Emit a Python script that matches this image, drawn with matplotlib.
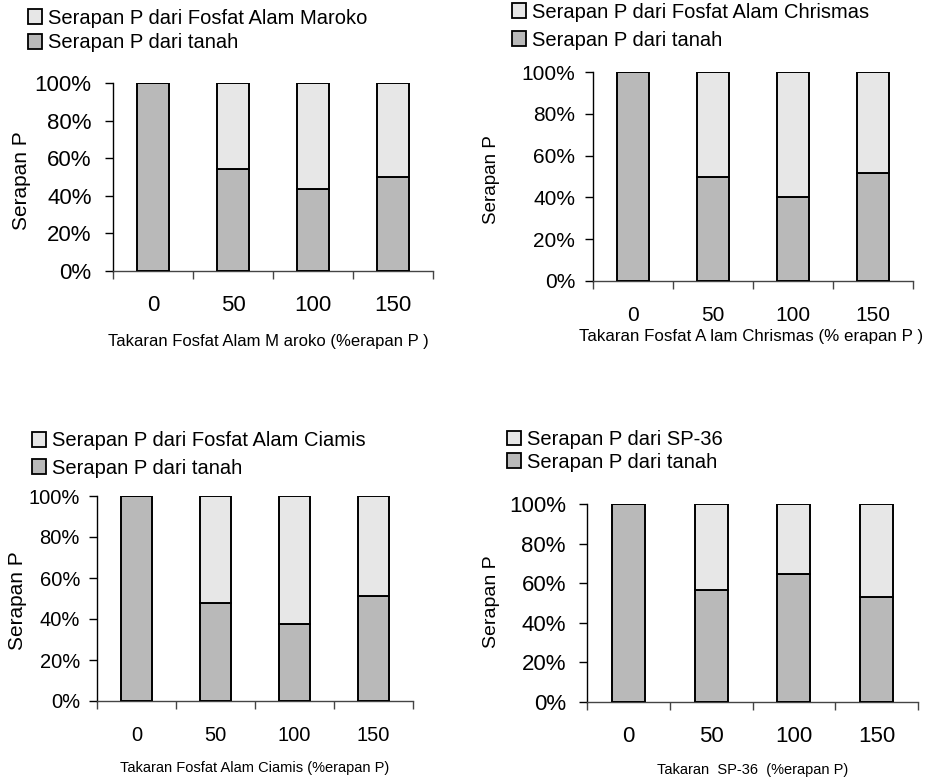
import matplotlib
matplotlib.use("Agg")
import matplotlib.pyplot as plt
from matplotlib.patches import Patch

plt.rcParams['font.family'] = ['Liberation Sans', 'DejaVu Sans']

categories = ["0", "50", "100", "150"]
ytick_labels = ["0%", "20%", "40%", "60%", "80%", "100%"]

soil_maroko = [100, 54.3, 43.5, 50.2]
soil_chrismas = [100, 49.7, 40.0, 51.6]
soil_ciamis = [100, 47.7, 37.7, 51.3]
soil_sp36 = [100, 56.8, 64.5, 53.1]

fert_maroko = [100 - v for v in soil_maroko]
fert_chrismas = [100 - v for v in soil_chrismas]
fert_ciamis = [100 - v for v in soil_ciamis]
fert_sp36 = [100 - v for v in soil_sp36]

legend_fert = ["Serapan P dari Fosfat Alam Maroko",
               "Serapan P dari Fosfat Alam Chrismas",
               "Serapan P dari Fosfat Alam Ciamis",
               "Serapan P dari SP-36"]
legend_soil = "Serapan P dari tanah"
xlabels = ["Takaran Fosfat Alam M aroko (%erapan P )",
           "Takaran Fosfat A lam Chrismas (% erapan P )",
           "Takaran Fosfat Alam Ciamis (%erapan P)",
           "Takaran  SP-36  (%erapan P)"]

W, H = 928, 779
fig = plt.figure(figsize=(W / 100, H / 100), dpi=100)

DARK = '#b9b9b9'
LIGHT = '#e7e7e7'

panels = [
    dict(soil=soil_maroko, fert=fert_maroko, leg=legend_fert[0], xl=xlabels[0],
         ax=(113, 433, 83, 271), legx=28, legy=(18, 43), yl=(22, 181), xlp=(268, 342),
         tick_fs=16, ypad=9.5, ylab_fs=15, leg_fs=14.5, xl_fs=12),
    dict(soil=soil_chrismas, fert=fert_chrismas, leg=legend_fert[1], xl=xlabels[1],
         ax=(593, 913, 72, 281), legx=512, legy=(12, 40), yl=(492, 180), xlp=(751, 337),
         tick_fs=15, ypad=7, ylab_fs=13.5, leg_fs=14.5, xl_fs=12.2),
    dict(soil=soil_ciamis, fert=fert_ciamis, leg=legend_fert[2], xl=xlabels[2],
         ax=(97, 413, 496, 701), legx=32, legy=(441, 468), yl=(18, 601), xlp=(255, 768),
         tick_fs=14.5, ypad=6.5, ylab_fs=15, leg_fs=14.5, xl_fs=10.5),
    dict(soil=soil_sp36, fert=fert_sp36, leg=legend_fert[3], xl=xlabels[3],
         ax=(587, 918, 504, 702), legx=507, legy=(440, 462), yl=(492, 602), xlp=(753, 770),
         tick_fs=16, ypad=9.4, ylab_fs=14, leg_fs=14.5, xl_fs=10.5),
]

for p in panels:
    l, r, t, b = p['ax']
    ax = fig.add_axes([l / W, 1 - b / H, (r - l) / W, (b - t) / H])
    x = range(len(categories))
    ax.bar(x, p['soil'], width=0.4, color=DARK, edgecolor='black', linewidth=1.4, zorder=3)
    ax.bar(x, p['fert'], bottom=p['soil'], width=0.4, color=LIGHT, edgecolor='black',
           linewidth=1.4, zorder=3)
    ax.set_xlim(-0.5, 3.5)
    ax.set_ylim(0, 100)
    ax.set_yticks([0, 20, 40, 60, 80, 100])
    ax.set_yticklabels(ytick_labels, fontsize=p['tick_fs'])
    ax.set_xticks([-0.5, 0.5, 1.5, 2.5, 3.5])
    ax.set_xticklabels([])
    ax.set_xticks([0, 1, 2, 3], minor=True)
    ax.set_xticklabels(categories, minor=True, fontsize=p['tick_fs'])
    cap_px = p['tick_fs'] * 100 / 72 * 0.716
    pad_pt = (32 - 0.5 * cap_px) * 0.72
    ax.tick_params(axis='x', which='minor', length=0, pad=pad_pt)
    ax.tick_params(axis='x', which='major', length=6, width=1, direction='out', color='#444444')
    ax.tick_params(axis='y', length=5.8, width=1, direction='out', pad=p['ypad'])
    for s in ['top', 'right']:
        ax.spines[s].set_visible(False)
    ax.spines['left'].set_linewidth(1.0)
    ax.spines['bottom'].set_linewidth(1.0)
    ax.spines['bottom'].set_color('#444444')
    ax.set_facecolor('none')
    fig.text(p['yl'][0] / W, 1 - p['yl'][1] / H, "Serapan P", rotation=90,
             ha='center', va='center', fontsize=p['ylab_fs'])
    fig.text(p['xlp'][0] / W, 1 - p['xlp'][1] / H, p['xl'], ha='center', va='center',
             fontsize=p['xl_fs'])
    entries = [(LIGHT, p['leg'], p['legy'][0]), (DARK, legend_soil, p['legy'][1])]
    for col, lab, yy in entries:
        h = Patch(facecolor=col, edgecolor='black', linewidth=1.3)
        fig.legend([h], [lab], loc='center left',
                   bbox_to_anchor=(p['legx'] / W, 1 - yy / H),
                   frameon=False, fontsize=p['leg_fs'], handlelength=0.7,
                   handleheight=0.7, handletextpad=0.3, borderpad=0,
                   borderaxespad=0)

fig.savefig("out.png", dpi=100)
